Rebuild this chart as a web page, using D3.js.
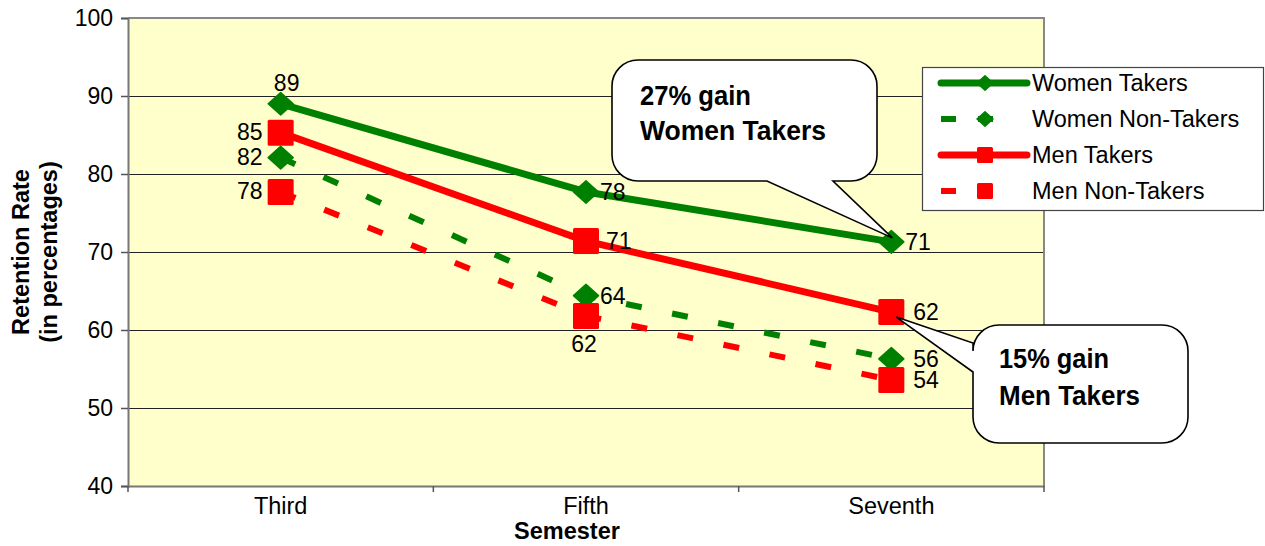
<!DOCTYPE html>
<html>
<head>
<meta charset="utf-8">
<script src="https://cdn.jsdelivr.net/npm/d3@7/dist/d3.min.js"></script>
<style>
  html, body { margin: 0; padding: 0; background: #ffffff; }
  svg { display: block; }
  text { font-family: "Liberation Sans", Arial, sans-serif; }
</style>
</head>
<body>
<svg id="chart" width="1265" height="546"></svg>
<script>
// ---------- data ----------
const semesters = ["Third", "Fifth", "Seventh"];
const seriesNames = ["Women Takers", "Women Non-Takers", "Men Takers", "Men Non-Takers"];
const womenTakers = [89.0, 77.7, 71.3];
const womenNonTakers = [82.1, 64.4, 56.3];
const menTakers = [85.3, 71.4, 62.3];
const menNonTakers = [77.7, 61.8, 53.6];
const yTicks = [40, 50, 60, 70, 80, 90, 100];
// where each data label sits relative to its point
const labelPlacement = [
  ["above", "right", "right"],
  ["left", "right", "right"],
  ["left", "right", "right"],
  ["left", "below", "right"]
];
const calloutWomen = ["27% gain", "Women Takers"];
const calloutMen = ["15% gain", "Men Takers"];

// ---------- styles ----------
const colors = ["#008000", "#008000", "#FF0000", "#FF0000"];
const dashed = [false, true, false, true];
const markers = ["diamond", "diamond", "square", "square"];
const values = [womenTakers, womenNonTakers, menTakers, menNonTakers];
const FONT = "Liberation Sans, Arial, sans-serif";

const svg = d3.select("#chart");
const plot = { left: 128, right: 1044, top: 18, bottom: 486 };

const x = d3.scaleBand().domain(semesters).range([plot.left, plot.right]).padding(0);
const y = d3.scaleLinear().domain([40, 100]).range([plot.bottom, plot.top]);
const cx = d => x(d) + x.bandwidth() / 2;

// plot background
svg.append("rect")
  .attr("x", plot.left).attr("y", plot.top)
  .attr("width", plot.right - plot.left).attr("height", plot.bottom - plot.top)
  .attr("fill", "#FFFFCC");

// gridlines
svg.append("g").selectAll("line")
  .data(yTicks.filter(t => t > 40 && t < 100))
  .join("line")
  .attr("x1", plot.left).attr("x2", plot.right)
  .attr("y1", d => Math.round(y(d)) + 0.5).attr("y2", d => Math.round(y(d)) + 0.5)
  .attr("stroke", "#222").attr("stroke-width", 1);

// plot border top & right
svg.append("path")
  .attr("d", `M${plot.left},${plot.top} H${plot.right} V${plot.bottom}`)
  .attr("fill", "none").attr("stroke", "#888").attr("stroke-width", 2);

// y axis
const yAxis = d3.axisLeft(y).tickValues(yTicks).tickSize(7).tickPadding(8);
const gy = svg.append("g").attr("transform", `translate(${plot.left},0)`).call(yAxis);
gy.select(".domain").attr("stroke", "#777").attr("stroke-width", 2);
gy.selectAll(".tick line").attr("stroke", "#555").attr("stroke-width", 1.5);
gy.selectAll(".tick text").attr("font-size", 23).attr("fill", "#000").attr("font-family", FONT);

// x axis
const xAxis = d3.axisBottom(x).tickSize(0).tickPadding(11);
const gx = svg.append("g").attr("transform", `translate(0,${plot.bottom})`).call(xAxis);
gx.select(".domain").attr("stroke", "#777").attr("stroke-width", 2);
gx.selectAll(".tick text").attr("font-size", 23.5).attr("fill", "#000").attr("font-family", FONT);
// boundary ticks on x axis
svg.append("g").selectAll("line")
  .data(semesters.map(s => x(s)).concat([plot.right]))
  .join("line")
  .attr("x1", d => d).attr("x2", d => d)
  .attr("y1", plot.bottom).attr("y2", plot.bottom + 6)
  .attr("stroke", "#555").attr("stroke-width", 1.5);

// axis titles
svg.append("text")
  .attr("x", 567).attr("y", 539)
  .attr("text-anchor", "middle").attr("font-size", 23.5).attr("font-weight", "bold")
  .text("Semester");
const yt = svg.append("text")
  .attr("transform", "translate(29,252) rotate(-90)")
  .attr("text-anchor", "middle").attr("font-size", 23.5).attr("font-weight", "bold");
yt.append("tspan").attr("x", 0).attr("y", 0).text("Retention Rate");
yt.append("tspan").attr("x", 0).attr("y", 28).text("(in percentages)");

// marker generator
function drawMarker(g, type, px, py, color, size) {
  if (type === "diamond") {
    const h = size / 2;
    g.append("path")
      .attr("d", `M${px},${py - h * 0.9} L${px + h},${py} L${px},${py + h * 0.9} L${px - h},${py} Z`)
      .attr("fill", color).attr("stroke", color).attr("stroke-width", 1.5).attr("stroke-linejoin", "round");
  } else {
    g.append("rect")
      .attr("x", px - size / 2).attr("y", py - size / 2)
      .attr("width", size).attr("height", size)
      .attr("rx", 1.5)
      .attr("fill", color);
  }
}

const line = d3.line().x((d, i) => cx(semesters[i])).y(d => y(d));

values.forEach((vals, si) => {
  const g = svg.append("g");
  g.append("path")
    .attr("d", line(vals))
    .attr("fill", "none")
    .attr("stroke", colors[si])
    .attr("stroke-width", dashed[si] ? 6 : 7)
    .attr("stroke-dasharray", dashed[si] ? "16 31" : null)
    .attr("stroke-linejoin", "round")
    .attr("stroke-linecap", dashed[si] ? "butt" : "round");
  vals.forEach((v, i) => {
    drawMarker(g, markers[si], cx(semesters[i]), y(v), colors[si], markers[si] === "diamond" ? 25 : 26);
  });
});

// data labels
values.forEach((vals, si) => {
  vals.forEach((v, i) => {
    const px = cx(semesters[i]), py = y(v);
    const pos = labelPlacement[si][i];
    const isD = markers[si] === "diamond";
    let tx = px, ty = py + 8, anchor = "start";
    if (pos === "right") {
      tx = px + (isD ? 14 : 20);
      if (i === 2) tx = px + (si === 0 ? 14 : 22);
    }
    if (pos === "left") { tx = px - 18; anchor = "end"; ty = py + 7; }
    if (pos === "above") { tx = px + 6; ty = py - 13; anchor = "middle"; }
    if (pos === "below") { tx = px - 2; ty = py + 36; anchor = "middle"; }
    svg.append("text")
      .attr("x", tx).attr("y", ty)
      .attr("text-anchor", anchor).attr("font-size", 23).attr("fill", "#000")
      .text(Math.round(v));
  });
});

// callouts
function roundedCallout(x0, y0, x1, y1, r, wedge) {
  let d = `M${x0 + r},${y0} H${x1 - r} A${r},${r} 0 0 1 ${x1},${y0 + r} V${y1 - r} A${r},${r} 0 0 1 ${x1 - r},${y1}`;
  if (wedge.side === "bottom") {
    d += ` H${wedge.b} L${wedge.tip[0]},${wedge.tip[1]} L${wedge.a},${y1}`;
  }
  d += ` H${x0 + r} A${r},${r} 0 0 1 ${x0},${y1 - r}`;
  if (wedge.side === "left") {
    d += ` V${wedge.b} L${wedge.tip[0]},${wedge.tip[1]} L${x0},${wedge.a}`;
  }
  d += ` V${y0 + r} A${r},${r} 0 0 1 ${x0 + r},${y0} Z`;
  return d;
}

// Women callout
const tipW = [cx("Seventh") + 1, y(womenTakers[2]) - 4];
svg.append("path")
  .attr("d", roundedCallout(612, 60, 877, 181, 26, { side: "bottom", a: 767, b: 833, tip: tipW }))
  .attr("fill", "#ffffff").attr("stroke", "#000").attr("stroke-width", 1.6);
svg.append("text").attr("x", 640).attr("y", 105)
  .attr("font-size", 28).attr("font-weight", "bold")
  .attr("textLength", 111).attr("lengthAdjust", "spacingAndGlyphs")
  .text(calloutWomen[0]);
svg.append("text").attr("x", 640).attr("y", 140)
  .attr("font-size", 28).attr("font-weight", "bold")
  .attr("textLength", 186).attr("lengthAdjust", "spacingAndGlyphs")
  .text(calloutWomen[1]);

// Men callout
const tipM = [cx("Seventh") + 5, y(menTakers[2]) + 5];
svg.append("path")
  .attr("d", roundedCallout(973, 325, 1188, 443, 26, { side: "left", a: 343, b: 372, tip: tipM }))
  .attr("fill", "#ffffff").attr("stroke", "#000").attr("stroke-width", 1.6);
svg.append("text").attr("x", 999).attr("y", 368)
  .attr("font-size", 28).attr("font-weight", "bold")
  .attr("textLength", 110).attr("lengthAdjust", "spacingAndGlyphs")
  .text(calloutMen[0]);
svg.append("text").attr("x", 999).attr("y", 405)
  .attr("font-size", 28).attr("font-weight", "bold")
  .attr("textLength", 141).attr("lengthAdjust", "spacingAndGlyphs")
  .text(calloutMen[1]);

// legend
const lg = svg.append("g");
lg.append("rect")
  .attr("x", 922.5).attr("y", 67.5).attr("width", 341).attr("height", 143)
  .attr("fill", "#ffffff").attr("stroke", "#444").attr("stroke-width", 1.2);
seriesNames.forEach((name, si) => {
  const ly = 83 + si * 36;
  lg.append("line")
    .attr("x1", 941).attr("x2", dashed[si] ? 1002 : 1027).attr("y1", ly).attr("y2", ly)
    .attr("stroke", colors[si]).attr("stroke-width", dashed[si] ? 6 : 7)
    .attr("stroke-dasharray", dashed[si] ? "15 22" : null)
    .attr("stroke-linecap", dashed[si] ? "butt" : "round");
  drawMarker(lg, markers[si], 985, ly, colors[si], 16);
  lg.append("text")
    .attr("x", 1032).attr("y", ly + 8)
    .attr("font-size", 23.5).attr("fill", "#000")
    .text(name);
});
</script>
</body>
</html>
